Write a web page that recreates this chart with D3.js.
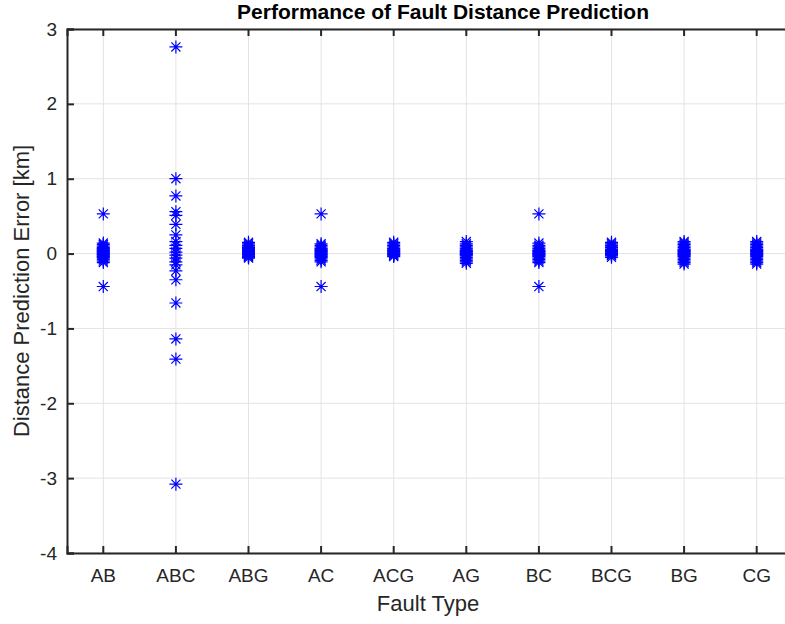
<!DOCTYPE html>
<html>
<head>
<meta charset="utf-8">
<script src="https://cdn.jsdelivr.net/npm/d3@7"></script>
<style>
  body { margin: 0; background: #fff; }
  svg { display: block; font-family: "Liberation Sans", Arial, sans-serif; }
</style>
</head>
<body>
<div id="chart"></div>
<script>
// fault types along the x axis
const faultTypes = ["AB", "ABC", "ABG", "AC", "ACG", "AG", "BC", "BCG", "BG", "CG"];
const yTicks = [-4, -3, -2, -1, 0, 1, 2, 3];

// prediction errors [km] per fault type
const errAB  = [0.53, 0.14, 0.12, 0.10, 0.08, 0.07, 0.06, 0.05, 0.04, 0.03, 0.02, 0.01, 0.00, -0.01, -0.02, -0.03, -0.04, -0.05, -0.06, -0.08, -0.10, -0.12, -0.44];
const errABC = [2.76, 1.00, 0.77, 0.56, 0.51, 0.39, 0.25, 0.16, 0.11, 0.07, 0.02, -0.02, -0.06, -0.11, -0.15, -0.23, -0.35, -0.66, -1.14, -1.41, -3.08];
const errABG = [0.15, 0.13, 0.11, 0.09, 0.08, 0.07, 0.06, 0.05, 0.04, 0.03, 0.02, 0.01, 0.00, -0.01, -0.02, -0.03, -0.04, -0.05, -0.06];
const errAC  = [0.53, 0.13, 0.11, 0.09, 0.07, 0.06, 0.05, 0.04, 0.03, 0.02, 0.01, 0.00, -0.01, -0.02, -0.03, -0.04, -0.05, -0.07, -0.09, -0.11, -0.44];
const errACG = [0.15, 0.13, 0.11, 0.09, 0.07, 0.06, 0.05, 0.04, 0.03, 0.02, 0.01, 0.00, -0.01, -0.02, -0.03, -0.04];
const errAG  = [0.16, 0.13, 0.11, 0.09, 0.07, 0.05, 0.04, 0.03, 0.02, 0.01, 0.00, -0.01, -0.02, -0.03, -0.05, -0.07, -0.09, -0.11, -0.13];
const errBC  = [0.53, 0.14, 0.11, 0.09, 0.07, 0.05, 0.04, 0.03, 0.02, 0.01, 0.00, -0.01, -0.02, -0.03, -0.04, -0.06, -0.08, -0.10, -0.12, -0.44];
const errBCG = [0.15, 0.13, 0.11, 0.09, 0.08, 0.06, 0.05, 0.04, 0.03, 0.02, 0.01, 0.00, -0.01, -0.02, -0.03, -0.05];
const errBG  = [0.16, 0.14, 0.12, 0.10, 0.08, 0.06, 0.05, 0.04, 0.03, 0.02, 0.01, 0.00, -0.01, -0.02, -0.03, -0.04, -0.06, -0.08, -0.10, -0.12, -0.14];
const errCG  = [0.16, 0.14, 0.12, 0.10, 0.08, 0.06, 0.05, 0.04, 0.03, 0.02, 0.01, 0.00, -0.01, -0.02, -0.03, -0.04, -0.06, -0.08, -0.10, -0.12, -0.14];

const errors = [errAB, errABC, errABG, errAC, errACG, errAG, errBC, errBCG, errBG, errCG];

// flatten into points
let points = [];
faultTypes.forEach((t, i) => {
  errors[i].forEach(v => points.push({type: t, value: v}));
});

const width = 785, height = 624;
const margin = {left: 67, top: 29, right: -8, bottom: 71};

const svg = d3.select("#chart").append("svg")
  .attr("width", width)
  .attr("height", height);

const x = d3.scaleBand()
  .domain(faultTypes)
  .range([margin.left, width - margin.right])
  .padding(0);

const y = d3.scaleLinear()
  .domain([-4, 3])
  .range([height - margin.bottom, margin.top]);

const cx = d => x(d) + x.bandwidth() / 2;
const axisColor = "#262626";

// grid
const grid = svg.append("g");
grid.selectAll(".gx")
  .data(faultTypes)
  .join("line")
    .attr("x1", d => cx(d)).attr("x2", d => cx(d))
    .attr("y1", y(-4)).attr("y2", y(3))
    .attr("stroke", "#e3e3e3").attr("stroke-width", 1);
grid.selectAll(".gy")
  .data(yTicks)
  .join("line")
    .attr("x1", x.range()[0]).attr("x2", x.range()[1])
    .attr("y1", d => y(d)).attr("y2", d => y(d))
    .attr("stroke", "#e3e3e3").attr("stroke-width", 1);

// asterisk markers
const r = 6.5;
const starPath = `M${-r},0H${r}M0,${-r}V${r}M${-r*0.7},${-r*0.7}L${r*0.7},${r*0.7}M${-r*0.7},${r*0.7}L${r*0.7},${-r*0.7}`;
svg.append("g")
  .selectAll("path")
  .data(points)
  .join("path")
    .attr("transform", d => `translate(${cx(d.type)},${y(d.value)})`)
    .attr("d", starPath)
    .attr("fill", "none")
    .attr("stroke", "#0000ff")
    .attr("stroke-width", 1.2);

// axes (MATLAB style: ticks inward, box on)
const xAxis = svg.append("g")
  .attr("transform", `translate(0,${y(-4)})`)
  .call(d3.axisBottom(x).tickSize(-7).tickPadding(16));
const yAxis = svg.append("g")
  .attr("transform", `translate(${x.range()[0]},0)`)
  .call(d3.axisLeft(y).tickValues(yTicks).tickSize(-7).tickPadding(10).tickFormat(d => String(d)));
const xTop = svg.append("g")
  .attr("transform", `translate(0,${y(3)})`)
  .call(d3.axisTop(x).tickSize(-7).tickFormat(""));

[xAxis, yAxis, xTop].forEach(g => {
  g.select(".domain").attr("stroke", axisColor).attr("stroke-width", 2);
  g.selectAll(".tick line").attr("stroke", axisColor).attr("stroke-width", 2);
  g.selectAll(".tick text")
    .attr("fill", axisColor)
    .style("font-size", "19px")
    .style("font-family", "'Liberation Sans', Arial, sans-serif");
});
xAxis.selectAll(".tick text").attr("dy", "0.71em");

// titles
svg.append("text")
  .attr("x", 443)
  .attr("y", 19)
  .attr("text-anchor", "middle")
  .attr("fill", "#000")
  .style("font-size", "21px")
  .style("font-weight", "bold")
  .text("Performance of Fault Distance Prediction");

svg.append("text")
  .attr("x", 428)
  .attr("y", 611)
  .attr("text-anchor", "middle")
  .attr("fill", axisColor)
  .style("font-size", "22px")
  .text("Fault Type");

svg.append("text")
  .attr("transform", `translate(29,${(y(-4) + y(3)) / 2}) rotate(-90)`)
  .attr("text-anchor", "middle")
  .attr("fill", axisColor)
  .style("font-size", "22px")
  .text("Distance Prediction Error [km]");
</script>
</body>
</html>
